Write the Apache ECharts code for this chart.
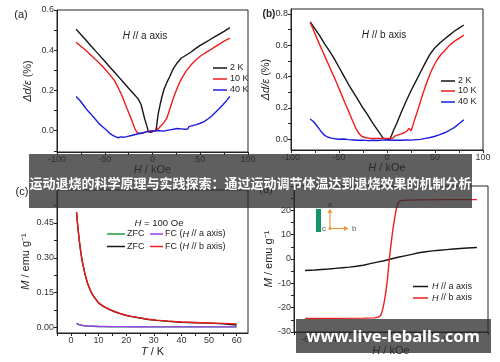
<!DOCTYPE html>
<html><head><meta charset="utf-8">
<script src="https://cdn.jsdelivr.net/npm/echarts@6/dist/echarts.min.js"></script>
<style>html,body{margin:0;padding:0;background:#fff}#c{width:500px;height:362px}</style>
</head><body><div id="c"></div>
<script>
// ---------- DATA ----------
// Panel (a): H // a axis, [H (kOe), Δ (%)]
const a2K = [[-80,0.505],[-75,0.478],[-70,0.452],[-65,0.425],[-60,0.398],[-55,0.372],[-50,0.345],[-45,0.318],[-40,0.292],[-35,0.265],[-30,0.238],[-25,0.211],[-20,0.185],[-15,0.158],[-12,0.13],[-10,0.093],[-8,0.055],[-6,0.025],[-4.4,-0.005],[-2,-0.008],[0,0.0],[3,0.0],[4,0.01],[5,0.05],[6,0.085],[8,0.13],[10,0.17],[12,0.205],[15,0.24],[18,0.268],[22,0.31],[26,0.338],[30,0.36],[35,0.375],[40,0.39],[45,0.408],[50,0.424],[55,0.438],[60,0.452],[65,0.466],[70,0.48],[75,0.494],[81,0.512]];
const a10K = [[-80,0.44],[-75,0.42],[-70,0.4],[-65,0.378],[-60,0.355],[-55,0.333],[-50,0.308],[-45,0.28],[-40,0.25],[-36,0.215],[-32,0.175],[-28,0.125],[-25,0.09],[-22,0.055],[-20,0.03],[-18,0.005],[-16,-0.01],[-13,-0.015],[-10,-0.012],[-7,-0.006],[-4,-0.002],[0,0.0],[3,0.0],[6,0.01],[9,0.025],[12,0.04],[15,0.062],[18,0.105],[21,0.15],[24,0.19],[27,0.225],[30,0.255],[35,0.295],[40,0.325],[45,0.35],[50,0.37],[55,0.386],[60,0.4],[65,0.415],[70,0.43],[75,0.445],[81,0.46]];
const a40K = [[-80,0.17],[-76,0.15],[-72,0.125],[-68,0.1],[-64,0.08],[-60,0.058],[-56,0.035],[-52,0.018],[-48,0.002],[-45,-0.012],[-42,-0.022],[-39,-0.03],[-36,-0.035],[-33,-0.031],[-30,-0.033],[-26,-0.028],[-22,-0.024],[-18,-0.019],[-14,-0.014],[-10,-0.01],[-6,-0.006],[-2,-0.003],[2,-0.001],[6,0.001],[10,-0.002],[14,0.0],[18,0.004],[22,0.007],[26,0.011],[30,0.009],[34,0.007],[37,0.008],[38,0.02],[42,0.025],[46,0.03],[50,0.037],[54,0.045],[58,0.058],[62,0.073],[66,0.092],[70,0.11],[74,0.13],[78,0.152],[81,0.17]];
// Panel (b): H // b axis
const b2K = [[-80,0.75],[-75,0.705],[-70,0.66],[-65,0.61],[-60,0.565],[-55,0.515],[-50,0.46],[-45,0.405],[-40,0.35],[-35,0.3],[-30,0.25],[-25,0.2],[-20,0.155],[-15,0.105],[-10,0.06],[-6,0.025],[-4,0.008],[-2,0.0],[0,0.0],[3,0.0],[5,0.03],[7,0.06],[10,0.1],[15,0.175],[20,0.245],[25,0.31],[30,0.37],[35,0.43],[40,0.49],[45,0.545],[50,0.585],[55,0.615],[60,0.64],[65,0.665],[70,0.69],[75,0.71],[80,0.73]];
const b10K = [[-80,0.745],[-76,0.69],[-72,0.63],[-68,0.575],[-64,0.52],[-60,0.465],[-56,0.41],[-52,0.355],[-48,0.295],[-44,0.235],[-40,0.18],[-36,0.12],[-32,0.065],[-29,0.035],[-26,0.018],[-22,0.01],[-18,0.006],[-12,0.005],[-6,0.005],[0,0.005],[6,0.006],[8,0.02],[10,0.027],[14,0.033],[18,0.042],[21,0.055],[23,0.07],[24,0.08],[25,0.055],[26,0.07],[28,0.11],[31,0.166],[34,0.225],[37,0.285],[41,0.355],[45,0.42],[48,0.46],[52,0.505],[56,0.54],[60,0.565],[65,0.6],[70,0.625],[75,0.645],[80,0.665]];
const b40K = [[-80,0.13],[-77,0.115],[-74,0.095],[-71,0.07],[-68,0.045],[-65,0.025],[-62,0.015],[-58,0.008],[-54,0.004],[-50,0.001],[-45,0.002],[-40,-0.002],[-35,-0.004],[-30,-0.006],[-25,-0.005],[-20,-0.008],[-15,-0.006],[-10,-0.007],[-5,-0.005],[0,-0.004],[5,-0.006],[10,-0.005],[15,-0.006],[20,-0.004],[25,-0.005],[30,-0.002],[35,0.0],[40,0.006],[45,0.012],[50,0.02],[55,0.03],[60,0.042],[65,0.058],[70,0.075],[75,0.1],[80,0.125]];
// Panel (c): M vs T, H = 100 Oe
const cT = [2,2.5,3,3.5,4,5,6,7,8,9,10,12,14,16,18,20,22,25,28,31,35,40,45,50,55,60];
const cFCb = [0.497,0.43,0.375,0.33,0.29,0.235,0.19,0.16,0.138,0.122,0.106,0.09,0.078,0.068,0.06,0.053,0.048,0.042,0.036,0.032,0.028,0.024,0.022,0.02,0.018,0.016];
const cZFCb = [0.495,0.428,0.373,0.328,0.288,0.233,0.189,0.159,0.137,0.121,0.105,0.089,0.077,0.067,0.059,0.052,0.047,0.041,0.035,0.031,0.027,0.023,0.021,0.019,0.016,0.011];
const cFCa = [0.018,0.016,0.013,0.012,0.01,0.008,0.007,0.0065,0.006,0.0055,0.005,0.0045,0.004,0.004,0.004,0.004,0.0035,0.0035,0.003,0.003,0.003,0.003,0.003,0.003,0.003,0.003];
const cZFCa = [0.017,0.015,0.012,0.011,0.0095,0.0075,0.0065,0.006,0.0055,0.005,0.0045,0.004,0.0035,0.0035,0.0035,0.0035,0.003,0.003,0.003,0.003,0.003,0.003,0.003,0.003,0.003,0.003];
// Panel (d): M vs H at low T
const dHa = [[-62,-4.7],[-55,-4.5],[-50,-4.3],[-45,-4.1],[-40,-3.85],[-35,-3.6],[-30,-3.35],[-25,-3.0],[-20,-2.55],[-15,-1.9],[-10,-1.3],[-5,-0.7],[0,0],[5,0.7],[10,1.3],[15,1.9],[20,2.55],[25,3.0],[30,3.35],[35,3.6],[40,3.85],[45,4.1],[50,4.3],[55,4.5],[62,4.7]];
const dHb = [[-62,-24.4],[-40,-24.4],[-20,-24.3],[-12,-24.2],[-9,-23.9],[-7.5,-23.2],[-6.5,-21.8],[-5.5,-19.5],[-4.5,-16.5],[-3.5,-12.5],[-2.5,-8],[-1.2,0],[0,6],[1,10.5],[2,14.5],[3,18],[4,21],[5,22.8],[6,23.7],[8,24.1],[12,24.2],[20,24.3],[40,24.4],[62,24.4]];
// tick labels
const abXTicks = [-100,-50,0,50,100];
const abXMinor = [-100,-75,-50,-25,0,25,50,75,100];
const aYTicks = [0.0,0.2,0.4,0.6];
const aYMinor = [-0.1,0.0,0.1,0.2,0.3,0.4,0.5,0.6];
const bYTicks = [0.0,0.2,0.4,0.6,0.8];
const bYMinor = [0.0,0.1,0.2,0.3,0.4,0.5,0.6,0.7,0.8];
const cXTicks = [0,10,20,30,40,50,60];
const cXMinor = [-5,0,5,10,15,20,25,30,35,40,45,50,55,60];
const cYTicks = [0.00,0.15,0.30,0.45];
const cYMinor = [0,0.075,0.15,0.225,0.3,0.375,0.45,0.525];
const dXTicks = [-60,-40,-20,0,20,40,60];
const dXMinor = [-70,-60,-50,-40,-30,-20,-10,0,10,20,30,40,50,60,70];
const dYTicks = [-30,-20,-10,0,10,20];
const dYMinor = [-30,-25,-20,-15,-10,-5,0,5,10,15,20,25,30];

// ---------- CHART ----------
const FONT = "'Liberation Sans', Arial, sans-serif";
const BLACK = '#161616', RED = '#ee1c1c', BLUE = '#1c1ce0', PURPLE = '#9a3cf0', GREEN = '#1e9e3c';
const chart = echarts.init(document.getElementById('c'));

const grids = [
  {left:57, top:10, width:191, height:142},
  {left:291, top:9, width:192, height:141},
  {left:57, top:190, width:191, height:143},
  {left:294, top:186, width:194, height:146}
].map(g => Object.assign({show:true, borderColor:'#222', borderWidth:1, backgroundColor:'transparent'}, g));

const rich = {i:{fontStyle:'italic', fontFamily:FONT, fontSize:11, color:'#222'}};
function axis(gi, min, max, labels, ticks, fmt, name, nameGap, isY){
  return {
    gridIndex: gi, type:'value', min, max,
    axisLine:{show:true, onZero:false, lineStyle:{color:'#222', width:1}},
    axisTick:{show:true, length:3, inside:false, customValues:ticks, lineStyle:{color:'#222'}},
    axisLabel:{customValues:labels, formatter:fmt, fontSize:9, color:'#333', fontFamily:FONT, margin:3},
    splitLine:{show:false},
    name, nameLocation:'middle', nameGap, nameRotate: isY ? 90 : 0,
    nameTextStyle:{fontSize:11, color:'#222', fontFamily:FONT, rich}
  };
}
const f1 = v => v.toFixed(1), f2 = v => v.toFixed(2), f0 = v => String(v);

const xAxis = [
  axis(0, -100, 100, abXTicks, abXMinor, f0, '{i|H} / kOe', 8, false),
  axis(1, -100, 100, abXTicks, abXMinor, f0, '{i|H} / kOe', 8, false),
  axis(2, -5.07, 64.1, cXTicks, cXMinor, f0, '{i|T} / K', 13, false),
  axis(3, -70, 70, dXTicks, dXMinor, f0, '{i|H} / kOe', 13, false)
];
const yAxis = [
  axis(0, -0.106, 0.6, aYTicks, aYMinor, f1, '{i|\u0394d/\u03b5} (%)', 24, true),
  axis(1, -0.068, 0.832, bYTicks, bYMinor, f1, '{i|\u0394d/\u03b5} (%)', 19, true),
  axis(2, -0.0232, 0.591, cYTicks, cYMinor, f2, '{i|M} / emu g\u207b\u00b9', 26, true),
  axis(3, -30, 30, dYTicks, dYMinor, f0, '{i|M} / emu g\u207b\u00b9', 20, true)
];

function line(name, data, gi, color, z){
  return {type:'line', name, data, xAxisIndex:gi, yAxisIndex:gi, showSymbol:false, symbol:'none',
    lineStyle:{color, width:1.4}, itemStyle:{color}, z:z||2, animation:false, silent:true};
}
const zip = (xs, ys) => xs.map((x,i)=>[x, ys[i]]);
const series = [
  line('2 K', a2K, 0, BLACK), line('10 K', a10K, 0, RED), line('40 K', a40K, 0, BLUE),
  line('2 K', b2K, 1, BLACK), line('10 K', b10K, 1, RED), line('40 K', b40K, 1, BLUE),
  line('ZFC a', zip(cT, cZFCa), 2, GREEN, 2), line('FC a', zip(cT, cFCa), 2, PURPLE, 3),
  line('ZFC b', zip(cT, cZFCb), 2, BLACK, 2), line('FC b', zip(cT, cFCb), 2, RED, 3),
  line('H // a axis', dHa, 3, BLACK), line('H // b axis', dHb, 3, RED)
];

// legends and annotations
const G = [];
function txt(x, y, text, opts){
  G.push(Object.assign({type:'text', x, y, z:50, style:Object.assign({text, fontSize:9, fontFamily:FONT, fill:'#222', verticalAlign:'middle', align:'left',
    rich:{i:{fontStyle:'italic', fontSize:(opts&&opts.fs)||9, fontFamily:FONT, fill:'#222'}}}, (opts&&opts.style)||{})}, {}));
}
function seg(x1, x2, y, color){
  G.push({type:'line', z:50, shape:{x1, y1:y, x2, y2:y}, style:{stroke:color, lineWidth:1.5}});
}
// (a)
txt(21, 15, '(a)', {style:{fontSize:11, align:'center'}});
txt(145, 36, '{i|H} // a axis', {fs:10, style:{fontSize:10, align:'center'}});
[[68,'2 K',BLACK],[79,'10 K',RED],[90,'40 K',BLUE]].forEach(([y,t,c])=>{ seg(213,227,y,c); txt(230,y,t); });
// (b)
txt(269, 14, '(b)', {style:{fontSize:10, align:'center', fontWeight:'bold'}});
txt(384, 35, '{i|H} // b axis', {fs:10, style:{fontSize:10, align:'center'}});
[[81,'2 K',BLACK],[91,'10 K',RED],[102,'40 K',BLUE]].forEach(([y,t,c])=>{ seg(441,455,y,c); txt(458,y,t); });
// (c)
txt(22, 192, '(c)', {style:{fontSize:11, align:'center'}});
txt(159, 223, '{i|H} = 100 Oe', {fs:9.5, style:{fontSize:9.5, align:'center'}});
seg(107,125,234,GREEN); txt(127,234,'ZFC'); seg(150,163,234,PURPLE); txt(165,234,'FC ({i|H} // a axis)');
seg(107,125,246.5,BLACK); txt(127,246.5,'ZFC'); seg(150,163,246.5,RED); txt(165,246.5,'FC ({i|H} // b axis)');
// (d)
txt(266, 190, '(d)', {style:{fontSize:11, align:'center'}});
seg(413,428,286.5,BLACK); txt(432,286.5,'{i|H} // a axis');
seg(413,428,298,RED); txt(432,298,'{i|H} // b axis');
// inset crystal axes in (d)
const OR = '#e89a3a';
G.push({type:'rect', z:50, shape:{x:316, y:209, width:5, height:23}, style:{fill:'#14946a'}});
G.push({type:'line', z:50, shape:{x1:330, y1:228.5, x2:330, y2:212}, style:{stroke:OR, lineWidth:1.2}});
G.push({type:'polygon', z:50, shape:{points:[[327.5,213],[332.5,213],[330,208.5]]}, style:{fill:OR}});
G.push({type:'line', z:50, shape:{x1:330, y1:228.5, x2:345, y2:228.5}, style:{stroke:OR, lineWidth:1.2}});
G.push({type:'polygon', z:50, shape:{points:[[344,226],[344,231],[348.5,228.5]]}, style:{fill:OR}});
G.push({type:'circle', z:50, shape:{cx:330, cy:228.5, r:1.5}, style:{fill:OR}});
txt(330, 204.5, 'a', {style:{fontSize:8, align:'center', fill:'#555'}});
txt(352, 228.5, 'b', {style:{fontSize:8, fill:'#555'}});
txt(324, 228.5, 'c', {style:{fontSize:8, align:'center', fill:'#555'}});
// overlay banners
G.push({type:'rect', z:100, shape:{x:29, y:154, width:443, height:54}, style:{fill:'rgba(45,45,45,0.76)'}});
G.push({type:'text', z:101, x:250.5, y:183, style:{text:'运动退烧的科学原理与实践探索：通过运动调节体温达到退烧效果的机制分析',
  fill:'#fff', fontSize:13, fontWeight:'bold', fontFamily:"'Noto Sans CJK SC', sans-serif", align:'center', verticalAlign:'middle'}});
G.push({type:'rect', z:100, shape:{x:296, y:319, width:195, height:34}, style:{fill:'rgba(45,45,45,0.76)'}});
G.push({type:'text', z:101, x:393, y:337, style:{text:'www.live-leballs.com',
  fill:'#fff', fontSize:16.5, fontWeight:'bold', fontFamily:"'Noto Sans', 'DejaVu Sans', sans-serif", align:'center', verticalAlign:'middle'}});

chart.setOption({
  animation:false,
  backgroundColor:'#fff',
  grid:grids, xAxis, yAxis, series,
  graphic:{elements:G}
});
</script></body></html>
